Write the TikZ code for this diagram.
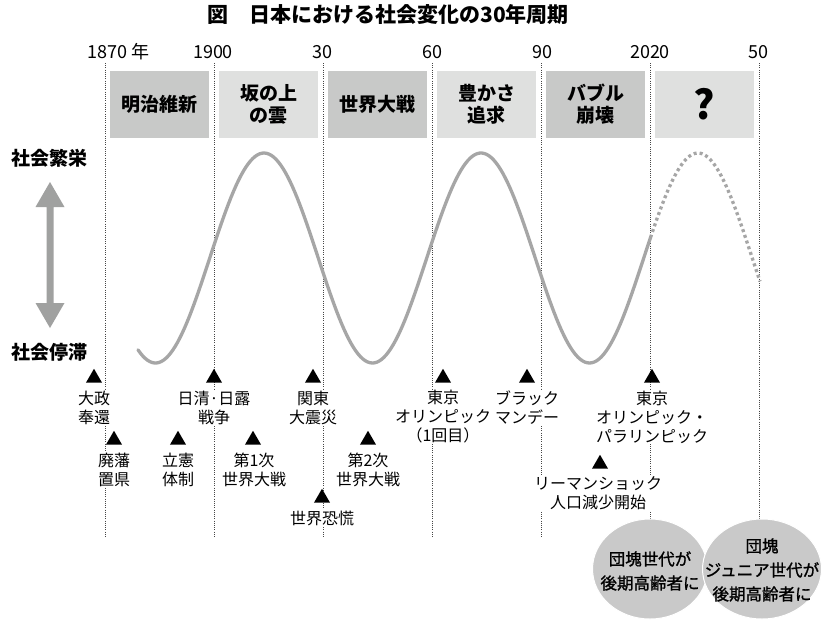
\documentclass[tikz,border=0pt]{standalone}
\usepackage{fontspec}
\setmainfont{Noto Sans CJK JP}
\newfontfamily\medfont[FakeBold=1.2]{Noto Sans CJK JP}
\usetikzlibrary{shapes.geometric}
\definecolor{boxdark}{RGB}{200,201,200}
\definecolor{boxlight}{RGB}{223,224,223}
\definecolor{curvegray}{RGB}{166,166,166}
\definecolor{arrowgray}{RGB}{160,161,160}
\definecolor{circgray}{RGB}{201,201,201}
\definecolor{dotgray}{RGB}{70,70,70}
\begin{document}
\begin{tikzpicture}[x=1pt,y=-1pt,
  yearlabel/.style={font=\fontsize{18}{20}\selectfont, inner sep=0pt},
  periodbox/.style={minimum width=99pt, minimum height=67pt, inner sep=0pt, align=center,
                    font=\bfseries\fontsize{19}{22}\selectfont},
  darkbox/.style={periodbox, fill=boxdark},
  lightbox/.style={periodbox, fill=boxlight},
  gridline/.style={dotgray, line width=0.9pt, dash pattern=on 1pt off 1.2pt},
  sidelabel/.style={font=\bfseries\fontsize{19}{22}\selectfont, inner sep=0pt},
  cycle/.style={curvegray, line width=3.3pt},
  future/.style={curvegray, line width=3.3pt, dash pattern=on 3pt off 3pt},
  tri/.style={regular polygon, regular polygon sides=3, fill=black, inner sep=0pt, minimum size=18.5pt},
  evtext/.style={font=\fontsize{16}{19}\selectfont, align=center, fill=white, inner sep=0.5pt},
  bubble/.style={ellipse, fill=circgray, draw=white, line width=1pt, inner sep=0pt},
  bubbletext/.style={align=center, inner sep=0pt, font=\medfont\fontsize{16.5}{24}\selectfont}
]
\fill[white] (0,0) rectangle (828,622);
\useasboundingbox (0,0) rectangle (828,622);

% title
\node[font=\bfseries\fontsize{21}{24}\selectfont, inner sep=0pt] (title) at (388,15) {図　日本における社会変化の30年周期};

% grid lines
\foreach \n/\x in {a/105.5,b/214.5,c/323.5,d/432.5,e/541.5,f/650.5,g/759.5}{
  \coordinate (\n top) at (\x,63);
  \coordinate (\n bot) at (\x,537);
  \draw[gridline] (\n top) -- (\n bot);
}

% year labels
\node[yearlabel, anchor=west] (y1870) at (87,52) {1870 年};
\node[yearlabel] (y1900) at (213,52) {1900};
\node[yearlabel] (y1930) at (322.5,52) {30};
\node[yearlabel] (y1960) at (432.5,52) {60};
\node[yearlabel] (y1990) at (542,52) {90};
\node[yearlabel] (y2020) at (650,52) {2020};
\node[yearlabel] (y2050) at (758,52) {50};

% period boxes
\node[darkbox]  (p1) at (159.5,104.5) {明治維新};
\node[lightbox] (p2) at (268.5,104.5) {坂の上\\の雲};
\node[darkbox]  (p3) at (377.5,104.5) {世界大戦};
\node[lightbox] (p4) at (486.5,104.5) {豊かさ\\追求};
\node[darkbox]  (p5) at (595.5,104.5) {バブル\\崩壊};
\node[lightbox, font=\bfseries\fontsize{40}{40}\selectfont] (p6) at (704.5,104.5) {?};

% side labels and arrow
\node[sidelabel] (prosper) at (50,158) {社会繁栄};
\node[sidelabel] (stagnate) at (50,352) {社会停滞};
\fill[arrowgray] (50,182) -- (64.5,207) -- (53.5,207) -- (53.5,303) -- (64.5,303)
  -- (50,328) -- (35.5,303) -- (46.5,303) -- (46.5,207) -- (35.5,207) -- cycle;

% cycle curve
\draw[cycle, line cap=round] plot[domain=138:650.5, samples=220] (\x,{258-105*cos((\x-264)/217*360)});
\draw[future] plot[domain=650.5:760, samples=60] (\x,{258-105*cos((\x-264)/217*360)});

% events
\node[tri] (t1) at (94,378) {};
\node[evtext] (e1) at (94,407.5) {大政\\奉還};
\node[tri] (t2) at (114,440) {};
\node[evtext] (e2) at (114,469.5) {廃藩\\置県};
\node[tri] (t3) at (178,440) {};
\node[evtext] (e3) at (178,469.5) {立憲\\体制};
\node[tri] (t4) at (214,378) {};
\node[evtext] (e4) at (214,407.5) {日清·日露\\戦争};
\node[tri] (t5) at (253,440) {};
\node[evtext] (e5) at (254,469.5) {第1次\\世界大戦};
\node[tri] (t6) at (313,378) {};
\node[evtext] (e6) at (313,407.5) {関東\\大震災};
\node[tri] (t7) at (322,498) {};
\node[evtext] (e7) at (322,518) {世界恐慌};
\node[tri] (t8) at (368,440) {};
\node[evtext] (e8) at (368,469.5) {第2次\\世界大戦};
\node[tri] (t9) at (443,378) {};
\node[evtext] (e9) at (443,417) {東京\\オリンピック\\（1回目）};
\node[tri] (t10) at (527,378) {};
\node[evtext] (e10) at (527,407.5) {ブラック\\マンデー};
\node[tri] (t11) at (652,378) {};
\node[evtext] (e11) at (652,417) {東京\\オリンピック・\\パラリンピック};
\node[tri] (t12) at (600,464) {};
\node[evtext] (e12) at (598,493.5) {リーマンショック\\人口減少開始};

% bubbles
\node[bubble, minimum width=115pt, minimum height=100pt] (c1) at (650,569) {};
\node[bubble, minimum width=119pt, minimum height=100pt] (c2) at (762,569) {};
\node[bubbletext] (c1text) at (650,571) {団塊世代が\\後期高齢者に};
\node[bubbletext] (c2text) at (762,570) {団塊\\ジュニア世代が\\後期高齢者に};
\end{tikzpicture}
\end{document}
